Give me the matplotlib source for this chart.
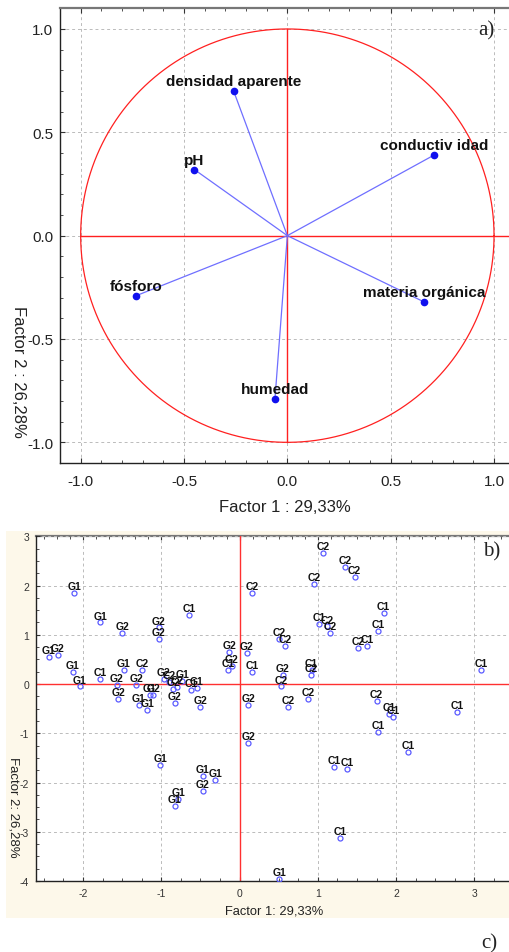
import numpy as np
import matplotlib
matplotlib.use("Agg")
import matplotlib.pyplot as plt
from matplotlib.ticker import MultipleLocator
from matplotlib.patches import Rectangle

plt.rcParams['font.family'] = ['Liberation Sans', 'DejaVu Sans']
plt.rcParams['axes.unicode_minus'] = False

# --- a) correlation circle: loadings of the variables
var_names = ["densidad aparente", "pH", "conductiv idad", "fósforo",
             "materia orgánica", "humedad"]
var_f1 = [-0.26, -0.45, 0.71, -0.73, 0.66, -0.06]
var_f2 = [0.70, 0.32, 0.39, -0.29, -0.32, -0.79]

# --- b) scores of the samples
g1_x = [-2.11, -1.78, -2.44, -2.13, -2.04, -1.48, -1.29, -1.18, -1.15, -0.73,
        -0.55, -1.01, -0.47, -0.31, -0.78, -0.83, 0.51]
g1_y = [1.85, 1.25, 0.55, 0.25, -0.05, 0.29, -0.42, -0.53, -0.23, 0.07,
        -0.08, -1.65, -1.87, -1.94, -2.34, -2.47, -3.95]
g2_x = [-2.32, -1.50, -1.03, -1.03, -1.57, -1.32, -1.55, -1.10, -0.97, -0.85,
        -0.83, -0.50, -0.13, -0.10, 0.09, 0.11, 0.11, -0.47, 0.55]
g2_y = [0.59, 1.03, 1.15, 0.92, -0.01, -0.01, -0.31, -0.23, 0.10, -0.10,
        -0.38, -0.46, 0.65, 0.37, 0.63, -0.42, -1.19, -2.17, 0.18]
c1_x = [-0.64, -1.78, -0.62, -0.15, 0.16, 1.84, 1.02, 1.77, 1.63, 0.92,
        3.08, 1.91, 1.96, 2.78, 1.77, 2.15, 1.21, 1.37, 1.28]
c1_y = [1.40, 0.10, -0.12, 0.29, 0.25, 1.44, 1.22, 1.07, 0.78, 0.28,
        0.29, -0.61, -0.67, -0.57, -0.98, -1.38, -1.68, -1.72, -3.13]
c2_x = [0.16, 1.07, 1.35, 1.47, 0.95, 1.12, 1.16, 0.51, 0.58, 1.51,
        0.91, 0.53, 0.62, 0.88, 1.75, -1.24, -0.90, -0.80]
c2_y = [1.85, 2.67, 2.37, 2.18, 2.03, 1.17, 1.03, 0.92, 0.78, 0.73,
        0.18, -0.05, -0.46, -0.31, -0.35, 0.29, 0.05, -0.06]

groups = [("G1", g1_x, g1_y), ("G2", g2_x, g2_y),
          ("C1", c1_x, c1_y), ("C2", c2_x, c2_y)]

W, H = 510, 953
fig = plt.figure(figsize=(W / 100, H / 100), dpi=100)


def frac(x0, y0, x1, y1):
    # pixel box -> figure fraction [left, bottom, width, height]
    return [x0 / W, 1 - y1 / H, (x1 - x0) / W, (y1 - y0) / H]


# cream background behind panel b
fig.patches.append(Rectangle((6 / W, 1 - 919 / H), 504 / W, 387 / H,
                             transform=fig.transFigure, facecolor='#fdf8ea',
                             edgecolor='none', zorder=-5))

# ================= panel a =================
ax1 = fig.add_axes(frac(60, 9.3, 514.7, 464))
ax1.set_xlim(-1.1, 1.1)
ax1.set_ylim(-1.1, 1.1)

t = np.linspace(0, 2 * np.pi, 400)
ax1.plot(np.cos(t), np.sin(t), color='#ff2020', lw=0.9, zorder=2)
ax1.plot([-1, 1.1], [0, 0], color='#ff2020', lw=1.0, zorder=2)
ax1.plot([0, 0], [-1, 1], color='#ff2020', lw=1.0, zorder=2)

for name, x, y in zip(var_names, var_f1, var_f2):
    ax1.plot([0, x], [0, y], color='#6f6fff', lw=0.9, zorder=3)
    ax1.plot(x, y, 'o', color='#1010ee', ms=4.5, zorder=4)
    ax1.annotate(name, (x, y), xytext=(0, 4), textcoords='offset points',
                 ha='center', va='baseline', fontsize=11,
                 fontweight='bold', color='#111111', zorder=5)

ax1.xaxis.set_major_locator(MultipleLocator(0.5))
ax1.yaxis.set_major_locator(MultipleLocator(0.5))
ax1.xaxis.set_minor_locator(MultipleLocator(0.1))
ax1.yaxis.set_minor_locator(MultipleLocator(0.1))
ax1.grid(True, which='major', ls=(0, (3, 3)), color='#bbbbbb', lw=0.7)
ax1.tick_params(which='both', direction='in', top=True, right=False,
                color='#333333', labelsize=11, labelcolor='#222222')
ax1.tick_params(which='major', length=3.5, pad=8)
ax1.tick_params(which='minor', length=2.5)
ax1.tick_params(axis='y', pad=5)
ax1.spines['right'].set_visible(False)
ax1.spines['top'].set_color('#777777')
ax1.spines['top'].set_linewidth(1.6)
for s in ('left', 'bottom'):
    ax1.spines[s].set_color('#222222')
    ax1.spines[s].set_linewidth(1.0)

fig.text(285.3 / W, 1 - 508 / H, "Factor 1 : 29,33%", ha='center',
         va='center', fontsize=12, color='#222222')
fig.text(18.3 / W, 1 - 371.5 / H, "Factor 2 : 26,28%", ha='center',
         va='center', fontsize=12, color='#222222', rotation=270)
fig.text(486 / W, 1 - 31 / H, "a)", ha='center', va='center', fontsize=15,
         family='Liberation Serif', color='#222222')

# ================= panel b =================
ax2 = fig.add_axes(frac(36, 537.3, 513.6, 882))
ax2.set_facecolor('white')
ax2.set_xlim(-2.6, 3.5)
ax2.set_ylim(-4, 3)
ax2.axhline(0, color='#ff3030', lw=1.0, zorder=2)
ax2.axvline(0, color='#ff3030', lw=1.0, zorder=2)

for lab, xs, ys in groups:
    ax2.plot(xs, ys, 'o', mfc='none', mec='#5a5aff', ms=3.6, mew=0.9,
             zorder=3)
    for x, y in zip(xs, ys):
        ax2.annotate(lab, (x, y), xytext=(0, 2.8), textcoords='offset points',
                     ha='center', va='baseline', fontsize=7.5,
                     fontweight='bold', color='#111111', zorder=4)

ax2.xaxis.set_major_locator(MultipleLocator(1))
ax2.yaxis.set_major_locator(MultipleLocator(1))
ax2.xaxis.set_minor_locator(MultipleLocator(0.25))
ax2.yaxis.set_minor_locator(MultipleLocator(0.25))
ax2.grid(True, which='major', ls=(0, (3, 3)), color='#bbbbbb', lw=0.7)
ax2.tick_params(which='both', direction='in', top=False, right=False,
                color='#333333', labelsize=7.5, labelcolor='#333333')
ax2.tick_params(which='major', length=3, pad=5)
ax2.tick_params(which='minor', length=2.5)
ax2.spines['right'].set_visible(False)
ax2.spines['top'].set_visible(False)
for s in ('left', 'bottom'):
    ax2.spines[s].set_color('#222222')
    ax2.spines[s].set_linewidth(1.0)

top = ax2.secondary_xaxis('top')
top.xaxis.set_major_locator(MultipleLocator(1))
top.xaxis.set_minor_locator(MultipleLocator(1 / 6))
top.tick_params(which='both', direction='in', labeltop=False,
                color='#333333')
top.tick_params(which='major', length=3)
top.tick_params(which='minor', length=2.5)
top.spines['top'].set_color('#777777')
top.spines['top'].set_linewidth(1.6)

fig.text(274.3 / W, 1 - 911.7 / H, "Factor 1: 29,33%", ha='center',
         va='center', fontsize=9.3, color='#222222')
fig.text(13 / W, 1 - 807 / H, "Factor 2: 26,28%", ha='center',
         va='center', fontsize=9.5, color='#222222', rotation=270)
fig.text(492 / W, 1 - 552 / H, "b)", ha='center', va='center', fontsize=15,
         family='Liberation Serif', color='#222222')
fig.text(489 / W, 1 - 944 / H, "c)", ha='center', va='center', fontsize=15,
         family='Liberation Serif', color='#222222')

fig.savefig("out.png", dpi=100)
